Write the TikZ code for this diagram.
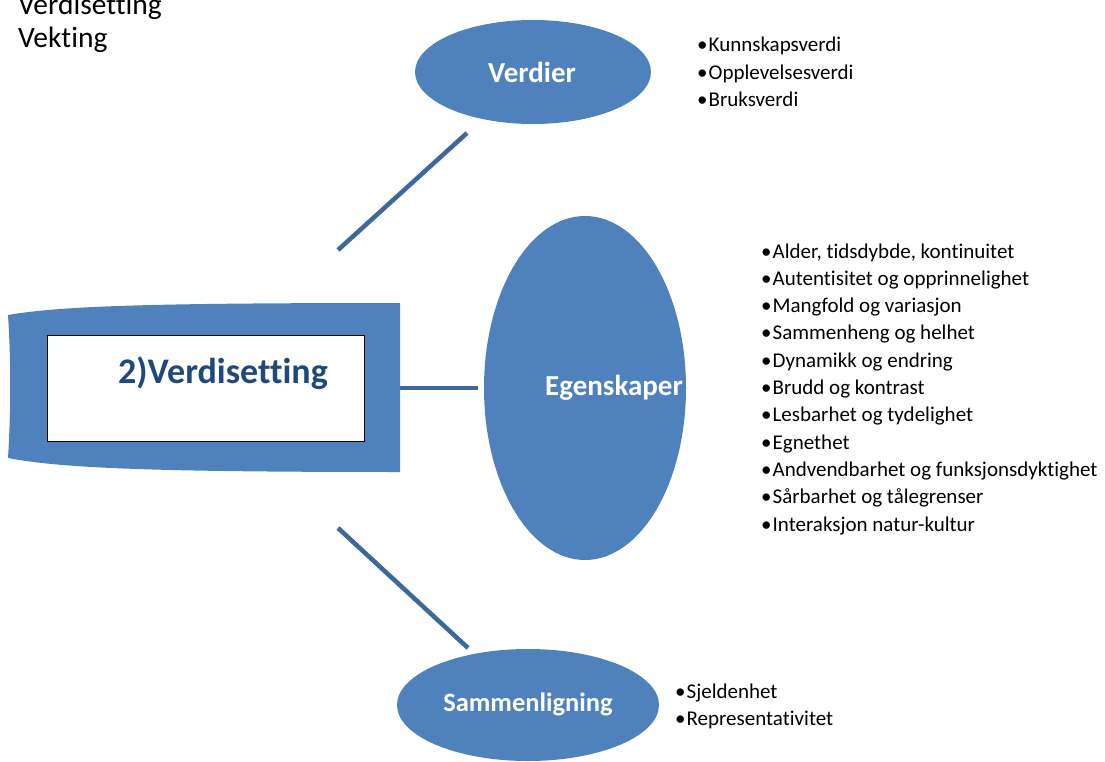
\documentclass[tikz,border=0pt]{standalone}
\usepackage{fontspec}
\setmainfont{Carlito}[Ligatures=NoCommon]
\usetikzlibrary{shapes.geometric}
\definecolor{fillblue}{HTML}{4F81BD}
\definecolor{lineblue}{HTML}{3E689C}
\definecolor{titleblue}{HTML}{1F497D}
\begin{document}
\begin{tikzpicture}[x=1pt,y=-1pt,
  bub/.style={ellipse,fill=fillblue,draw=none,inner sep=0pt},
  lab/.style={inner sep=0pt,text=white,font=\fontsize{29}{34}\selectfont\bfseries},
  conn/.style={draw=lineblue,line width=4.5pt},
  item/.style={anchor=base west,inner sep=0pt,font=\fontsize{21}{27}\selectfont},
  plain/.style={anchor=base west,inner sep=0pt,font=\fontsize{29.5}{34}\selectfont}]
\useasboundingbox (0,0) rectangle (1105,762);
% top-left text
\node[plain] (t1) at (18,15) {Verdisetting};
\node[plain] (t2) at (18,48) {Vekting};
% banner
\fill[fillblue] (8,315) .. controls (60,306) and (150,303) .. (400,303) -- (400,472)
  .. controls (150,472) and (60,468) .. (8,458) .. controls (11,410) and (11,360) .. (8,315) -- cycle;
\node[draw=black,line width=0.8pt,fill=white,minimum width=317pt,minimum height=106pt,inner sep=0pt,anchor=north west] (box) at (47,335) {};
\node[text=titleblue,font=\fontsize{36}{40}\selectfont\bfseries,inner sep=0pt] (title) at (223,373) {2)Verdisetting};
% ellipses
\node[bub,minimum width=236pt,minimum height=104pt] (verdier) at (533,72) {};
\node[bub,minimum width=202pt,minimum height=344pt] (egen) at (585,388) {};
\node[bub,minimum width=262pt,minimum height=112pt] (samm) at (528,705) {};
\node[lab] (verdierlab) at (532,72) {Verdier};
\node[lab] (egenlab) at (614,388) {Egenskaper};
\node[lab,font=\fontsize{26.5}{30}\selectfont\bfseries] (sammlab) at (528,704) {Sammenligning};
% connectors
\coordinate (a1) at (338,250); \coordinate (a2) at (467,133);
\coordinate (b1) at (400,388); \coordinate (b2) at (478,388);
\coordinate (c1) at (338,528); \coordinate (c2) at (468,648);
\draw[conn] (a1) -- (a2);
\draw[conn] (b1) -- (b2);
\draw[conn] (c1) -- (c2);
% lists
\foreach \t [count=\i from 0] in {Kunnskapsverdi,Opplevelsesverdi,Bruksverdi}
  \node[item] (v\i) at (697,{52+27.3*\i}) {•\hspace{1pt}\t};
\foreach \t [count=\i from 0] in {{Alder, tidsdybde, kontinuitet},Autentisitet og opprinnelighet,Mangfold og variasjon,Sammenheng og helhet,Dynamikk og endring,Brudd og kontrast,Lesbarhet og tydelighet,Egnethet,Andvendbarhet og funksjonsdyktighet,Sårbarhet og tålegrenser,Interaksjon natur-kultur}
  \node[item] (e\i) at (761,{258+27.3*\i}) {•\hspace{1pt}\t};
\foreach \t [count=\i from 0] in {Sjeldenhet,Representativitet}
  \node[item] (s\i) at (675,{698+27.3*\i}) {•\hspace{1pt}\t};
\end{tikzpicture}
\end{document}
